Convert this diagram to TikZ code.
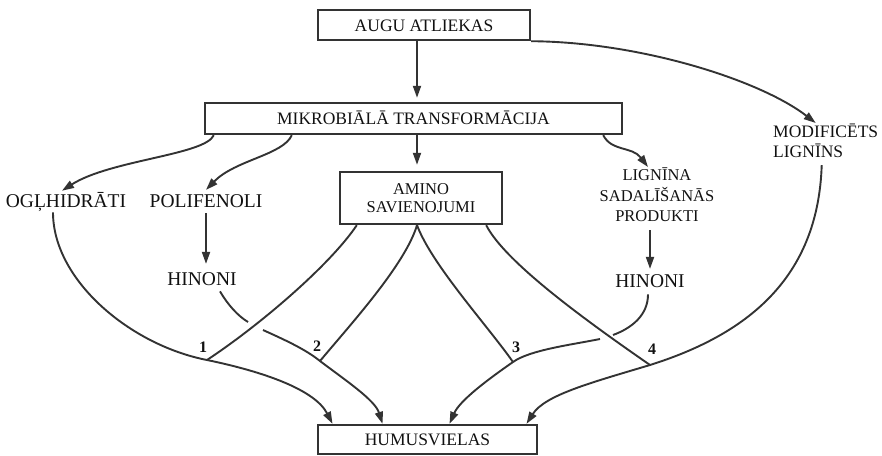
\documentclass[tikz,border=0pt]{standalone}
\usepackage{fontspec}
\setmainfont{Liberation Serif}
\usepackage{tikz}
\usetikzlibrary{positioning,calc,arrows.meta}
\definecolor{linec}{HTML}{333333}
\definecolor{textc}{HTML}{111111}

\begin{document}
\begin{tikzpicture}[x=1pt, y=-1pt,
  boxbase/.style={draw=linec, line width=2.4pt, inner sep=0pt, text=textc, font=\fontsize{17.5}{20}\selectfont},
  box/.style={boxbase, text height=12pt, text depth=0pt},
  lbl/.style={inner sep=1pt, text=textc, font=\fontsize{19.5}{22}\selectfont},
  num/.style={inner sep=0pt, text=textc, font=\fontsize{16}{18}\selectfont\bfseries},
  ln/.style={draw=linec, line width=1.9pt},
  arr/.style={ln, -{Triangle[length=12pt,width=8pt]}}]
  \useasboundingbox (0,0) rectangle (882,455);
  % boxes
  \node[box, minimum width=212pt, minimum height=30pt] (augu) at (424,25) {AUGU ATLIEKAS};
  \node[box, minimum width=417pt, minimum height=31pt] (mikro) at (413.5,118.5) {MIKROBIĀLĀ TRANSFORMĀCIJA};
  \node[boxbase, minimum width=162pt, minimum height=52pt, align=center,
        font=\fontsize{16.5}{18}\selectfont] (amino) at (421,198) {AMINO\\SAVIENOJUMI};
  \node[box, minimum width=219pt, minimum height=29pt] (humus) at (427.5,439.5) {HUMUSVIELAS};
  % free labels
  \node[lbl, anchor=base] (ogl) at (66,207) {OGĻHIDRĀTI};
  \node[lbl, anchor=base] (polif) at (206,207) {POLIFENOLI};
  \node[lbl, anchor=base] (hinL) at (202,285) {HINONI};
  \node[lbl, anchor=base] (hinR) at (650,287) {HINONI};
  \node[lbl, anchor=north, align=center, font=\fontsize{16.5}{20.5}\selectfont] (lign) at (657,167) {LIGNĪNA\\SADALĪŠANĀS\\PRODUKTI};
  \node[lbl, anchor=north west, align=left, font=\fontsize{17.5}{20}\selectfont] (modif) at (772,123) {MODIFICĒTS\\LIGNĪNS};
  % junctions and their numbers
  \foreach \n/\x/\y in {1/207/360, 2/320/361, 3/513/362, 4/650/365}
    \coordinate (j\n) at (\x,\y);
  \foreach \n/\x/\y in {1/203/352, 2/317/351, 3/516/352, 4/652/354}
    \node[num, anchor=base] (n\n) at (\x,\y) {\n};
  \coordinate (spine) at (417,0);
  \coordinate (gapL) at (248,322);
  \coordinate (gapLb) at (263,330);
  \coordinate (gapR) at (613,335);
  \coordinate (gapRb) at (600,339);

  % main line
  \draw[arr, shorten >=4pt] (spine |- augu.south) -- (spine |- mikro.north);
  \draw[arr, shorten >=6pt] (spine |- mikro.south) -- (spine |- amino.north);
  \draw[arr] (augu.south east) .. controls (640,42) and (760,80) .. ([xshift=-10pt]modif.north);
  % products of the transformation
  \draw[arr] ([xshift=10pt]mikro.south west) .. controls (205,155) and (110,160) .. ([xshift=-4pt]ogl.north);
  \draw[arr] ([xshift=88pt]mikro.south west) .. controls (283,155) and (235,160) .. ([yshift=3pt]polif.north);
  \draw[arr] ([xshift=-20pt]mikro.south east) .. controls (612,152) and (632,146) .. ([xshift=-9pt]lign.north);
  \draw[arr, shorten <=5pt, shorten >=7pt] (polif.south) -- (polif.south |- hinL.north);
  \draw[arr, shorten <=7pt, shorten >=4pt] (hinR.north |- lign.south) -- (hinR.north);

  % amino lines to the junctions
  \draw[ln] ([xshift=18pt]amino.south west) .. controls (330,265) and (260,325) .. (j1);
  \draw[ln] ([xshift=-4pt]amino.south) .. controls (405,265) and (350,325) .. (j2);
  \draw[ln] ([xshift=-4pt]amino.south) .. controls (432,265) and (487,325) .. (j3);
  \draw[ln] ([xshift=-17pt]amino.south east) .. controls (505,262) and (585,320) .. (j4);

  % into the humus
  \draw[arr] ([xshift=-13pt]ogl.south) .. controls (53,280) and (130,345) .. (j1)
     .. controls (265,372) and (315,390) .. ([xshift=-95pt]humus.north);
  \draw[ln] ([xshift=18pt,yshift=-5pt]hinL.south) .. controls (228,305) and (238,316) .. (gapL);
  \draw[arr] (gapLb) .. controls (285,340) and (305,349) .. (j2)
     .. controls (345,380) and (375,400) .. ([xshift=-45pt]humus.north);
  \draw[ln] ([xshift=-2pt,yshift=-6pt]hinR.south) .. controls (648,315) and (632,328) .. (gapR);
  \draw[arr] (gapRb) .. controls (570,345) and (530,350) .. (j3)
     .. controls (490,378) and (460,400) .. ([xshift=22pt]humus.north);
  \draw[arr] ([xshift=-4pt,yshift=-6pt]modif.south) .. controls (818,280) and (745,335) .. (j4)
     .. controls (590,383) and (545,395) .. ([xshift=99pt]humus.north);
\end{tikzpicture}
\end{document}
